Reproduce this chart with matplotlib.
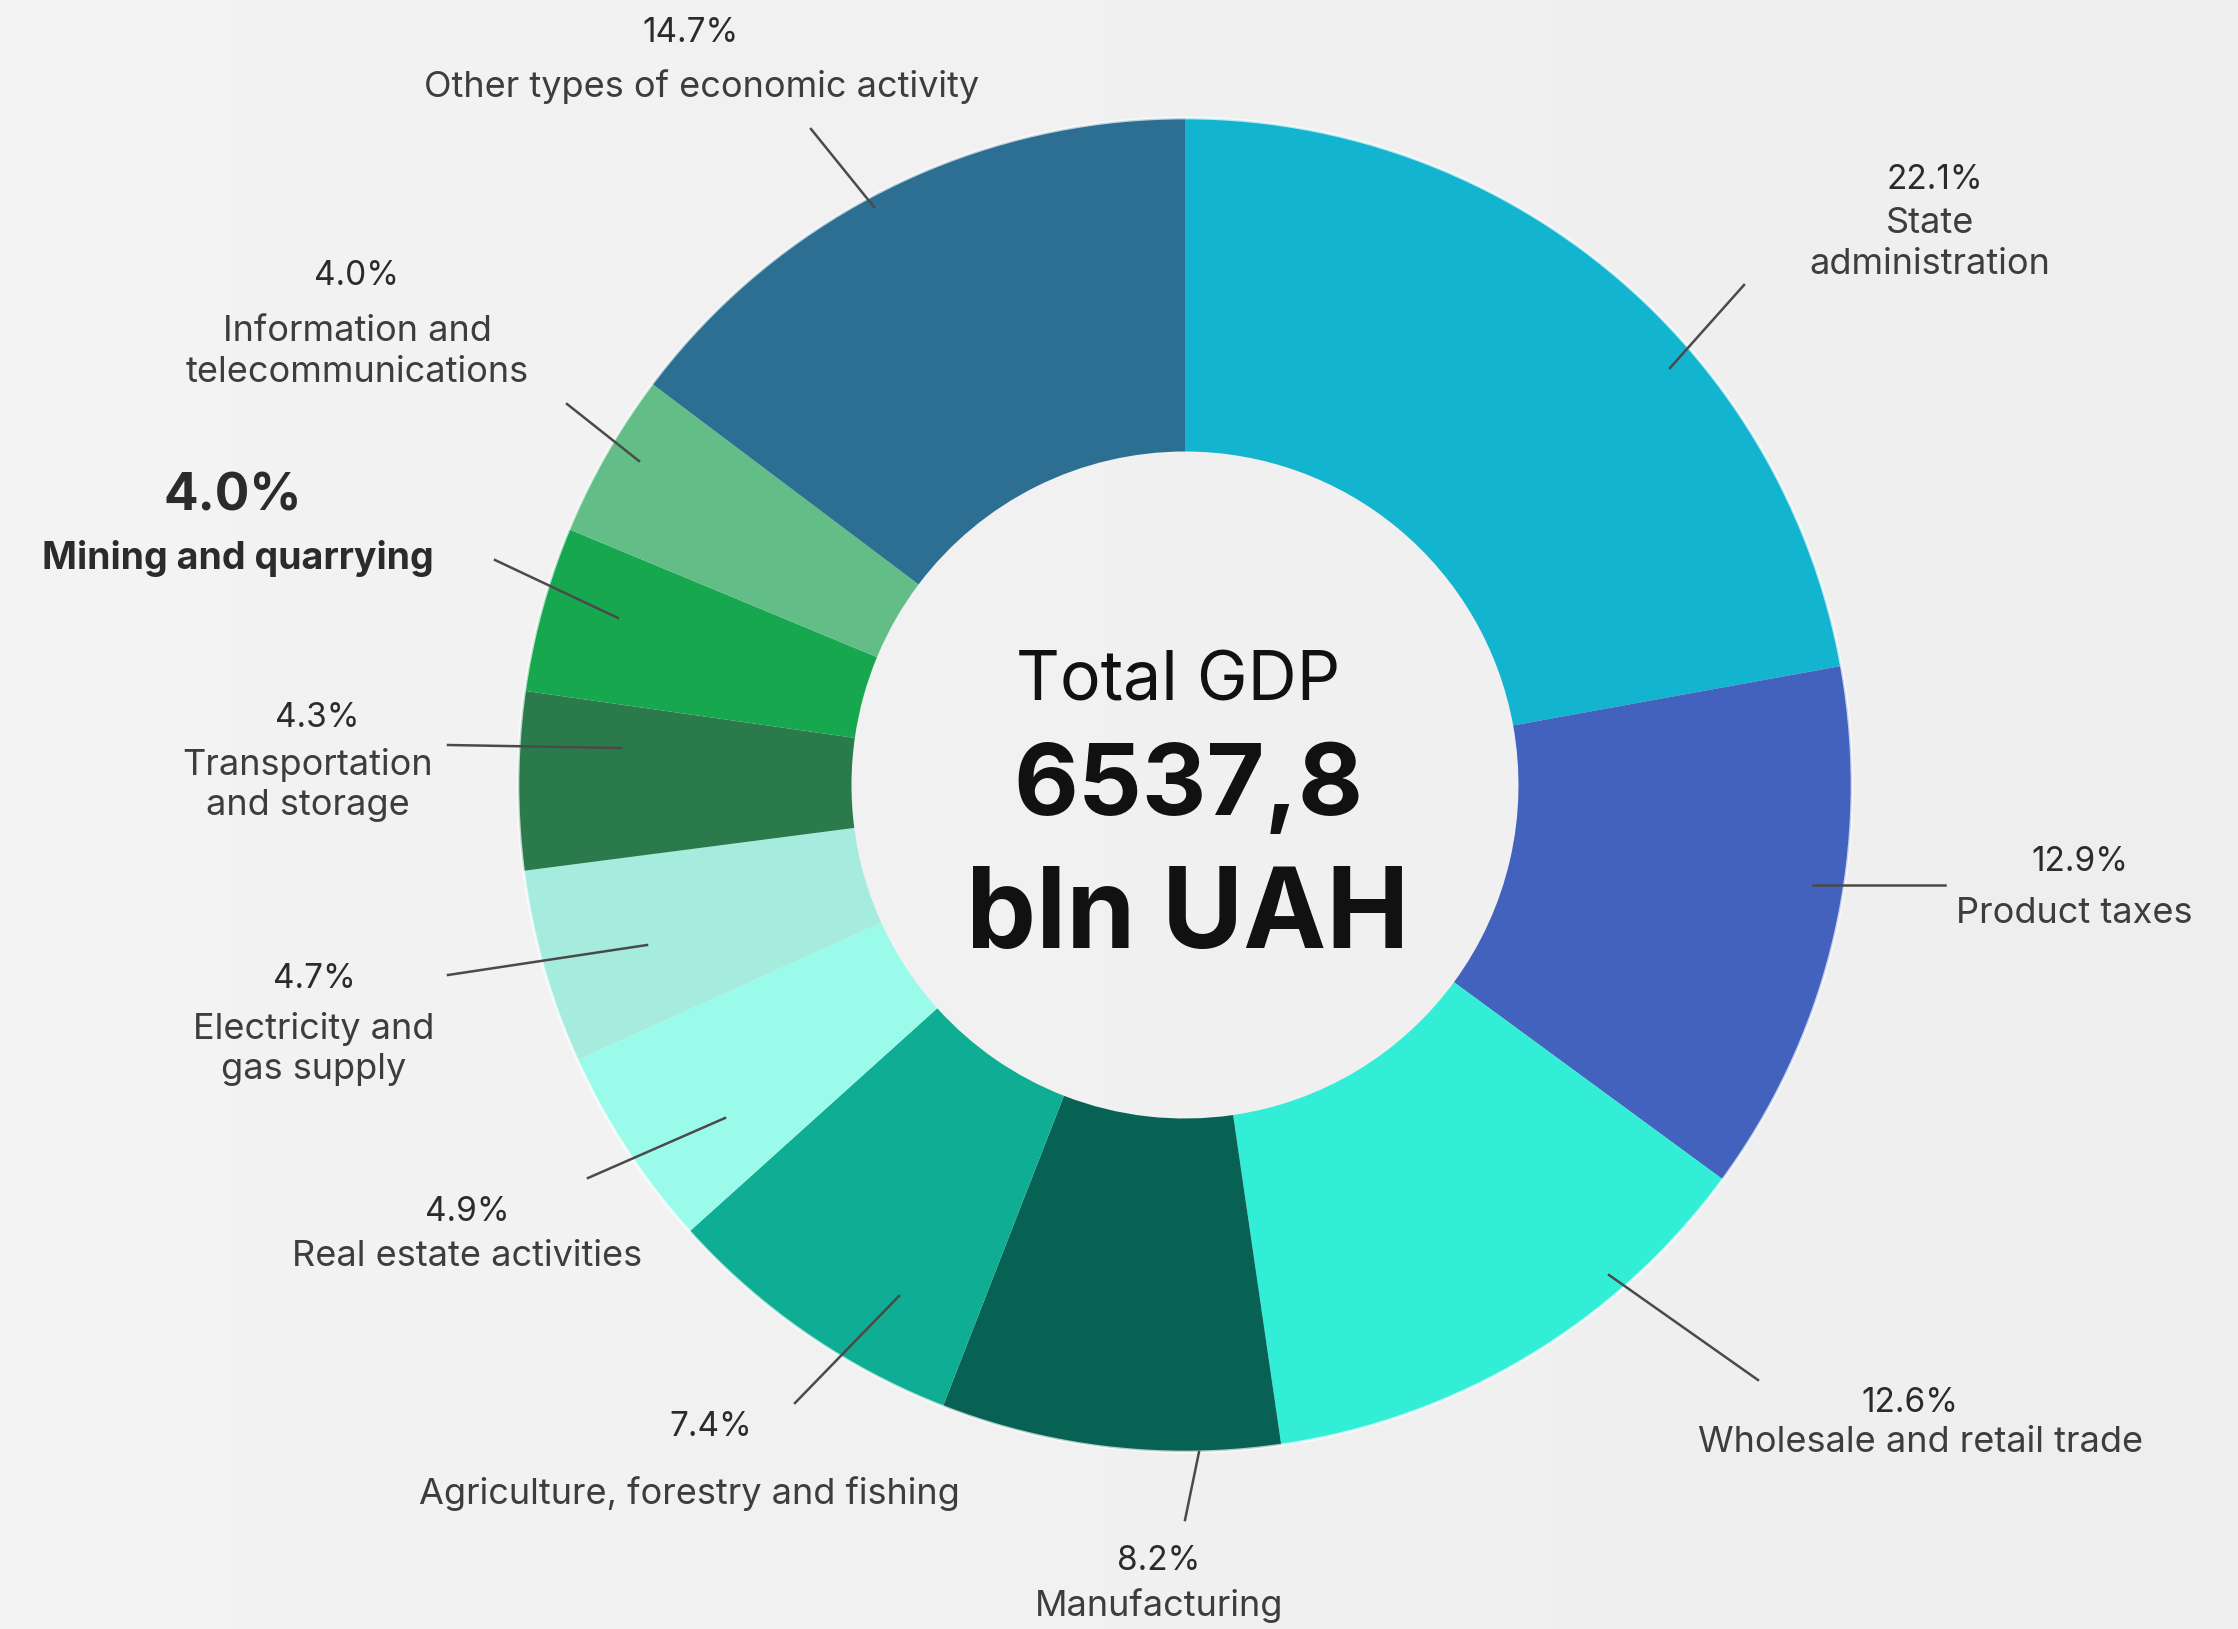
import numpy as np
import matplotlib
matplotlib.use("Agg")
import matplotlib.pyplot as plt

# GDP structure data (shares, %), clockwise from the top
categories = [
    "State\nadministration",
    "Product taxes",
    "Wholesale and retail trade",
    "Manufacturing",
    "Agriculture, forestry and fishing",
    "Real estate activities",
    "Electricity and\ngas supply",
    "Transportation\nand storage",
    "Mining and quarrying",
    "Information and\ntelecommunications",
    "Other types of economic activity",
]
shares = [22.1, 12.9, 12.6, 8.2, 7.4, 4.9, 4.7, 4.3, 4.0, 4.0, 14.7]
colors = ["#13B4CF", "#4262BD", "#33EED6", "#086254", "#0FAD93", "#9BFBEA",
          "#A5ECDF", "#2A7A4C", "#17A84F", "#62BE86", "#2C6F92"]
highlight = "Mining and quarrying"

total_label = "Total GDP"
total_value = "6537,8"
total_unit = "bln UAH"

W, H = 2238, 1629

# label layout in image pixels: (pct x, pct y), (name x, name y), leader line
pct_pos = [(1935, 180), (2080, 862), (1910, 1403), (1159, 1561), (711, 1427),
           (467, 1212), (314, 979), (317, 718), (233, 497), (357, 276), (691, 33)]
name_pos = [(1930, 244), (2074, 913), (1921, 1442), (1159, 1606), (689, 1494),
            (467, 1256), (314, 1049), (308, 785), (238, 558), (357, 352), (702, 87)]
leaders = [((1670, 368), (1744, 285)), ((1813, 885), (1945, 885)),
           ((1609, 1275), (1758, 1380)), ((1199, 1452), (1185, 1520)),
           ((899, 1296), (795, 1403)), ((725, 1118), (588, 1178)),
           ((647, 945), (448, 975)), ((621, 748), (448, 745)),
           ((618, 618), (495, 560)), ((639, 461), (567, 404)),
           ((874, 207), (811, 129))]

plt.rcParams['font.family'] = ['Inter', 'DejaVu Sans']


def Y(y):
    # image row -> data y
    return H - y


fig = plt.figure(figsize=(W / 100, H / 100), dpi=100)
ax = fig.add_axes([0, 0, 1, 1])

# soft grey background
grad = np.linspace(0.955, 0.935, 256).reshape(1, -1)
ax.imshow(np.dstack([grad, grad, grad]), extent=[0, W, 0, H], aspect='auto', zorder=0)

cx, cy, R = 1185, Y(785), 667
wedges, _ = ax.pie(shares, colors=colors, startangle=90, counterclock=False,
                   radius=R, center=(cx, cy), frame=True,
                   wedgeprops=dict(width=R * 0.5, linewidth=0))
for w in wedges:
    w.set_zorder(2)
ax.add_patch(plt.Circle((cx, cy), R, fill=False, ec='white', lw=2, alpha=0.7, zorder=3))
ax.set_xlim(0, W)
ax.set_ylim(0, H)
ax.set_aspect('auto')
ax.axis('off')

# leader lines and labels
for i, name in enumerate(categories):
    (x0, y0), (x1, y1) = leaders[i]
    ax.plot([x0, x1], [Y(y0), Y(y1)], color="#4a4a4a", lw=1.8, zorder=4)
    bold = name == highlight
    ax.text(pct_pos[i][0], Y(pct_pos[i][1]), f"{shares[i]:.1f}%",
            ha='center', va='center', color="#2b2b2b",
            fontsize=37 if bold else 24, fontweight='bold' if bold else 'normal', zorder=5)
    ax.text(name_pos[i][0], Y(name_pos[i][1]), name, ha='center', va='center',
            color="#2b2b2b" if bold else "#3d3d3d", linespacing=1.3,
            fontsize=27 if bold else 26, fontweight='bold' if bold else 'normal', zorder=5)

# centre text
ax.text(1178, Y(682), total_label, ha='center', va='center', fontsize=49, color="#111111", zorder=5)
ax.text(1188, Y(789), total_value, ha='center', va='center', fontsize=72, fontweight='bold',
        color="#111111", zorder=5)
ax.text(1188, Y(918), total_unit, ha='center', va='center', fontsize=80, fontweight='bold',
        color="#111111", zorder=5)

fig.savefig("out.png", dpi=100)
